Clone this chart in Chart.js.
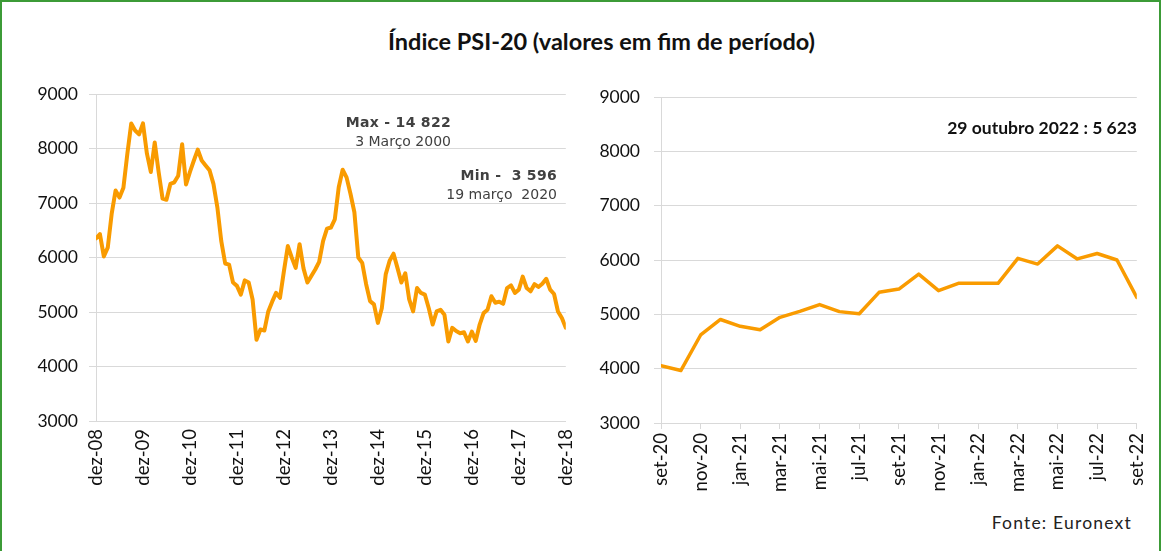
<!DOCTYPE html>
<html lang="pt">
<head>
<meta charset="utf-8">
<script src="https://cdn.jsdelivr.net/npm/chart.js@4.4.0/dist/chart.umd.min.js"></script>
<style>
  html, body { margin: 0; padding: 0; background: #fff; }
  body { width: 1163px; height: 551px; position: relative; overflow: hidden; font-family: Lato, 'Noto Sans', sans-serif; }
  .frame { position: absolute; left: 0; top: 0; width: 1157px; height: 570px; border: 2px solid #3c9b37; }
  .title { position: absolute; left: 20px; width: 1163px; top: 27px; text-align: center; font-weight: bold; font-size: 23.5px; color: #111; }
  .wrap { position: absolute; top: 70px; height: 440px; }
  #leftWrap { left: 0; width: 590px; }
  #rightWrap { left: 590px; width: 573px; }
  .note { position: absolute; font-family: 'DejaVu Sans', Verdana, sans-serif; color: #404040; font-size: 14px; text-align: right; white-space: nowrap; line-height: 19px; }
  .note b { letter-spacing: 0.3px; }
  .stamp { position: absolute; right: 26px; top: 117px; font-weight: bold; font-size: 17.5px; color: #111; white-space: nowrap; }
  .source { position: absolute; right: 31px; top: 512px; font-size: 17.5px; color: #222; letter-spacing: 1.2px; white-space: nowrap; }
</style>
</head>
<body>
<div class="frame"></div>
<div class="title">Índice PSI-20 (valores em fim de período)</div>
<div class="wrap" id="leftWrap"><canvas id="psiLong"></canvas></div>
<div class="wrap" id="rightWrap"><canvas id="psiShort"></canvas></div>
<div class="note" style="right:712px; top:113px;"><b>Max - 14 822</b><br>3 Março 2000</div>
<div class="note" style="right:606px; top:166px;"><b>Min -&nbsp; 3 596</b><br>19 março&nbsp; 2020</div>
<div class="stamp">29 outubro 2022 : 5 623</div>
<div class="source">Fonte: Euronext</div>
<script>
// dez-08 .. dez-18, monthly closes
const longLabels = ['dez-08', 'dez-09', 'dez-10', 'dez-11', 'dez-12', 'dez-13', 'dez-14', 'dez-15', 'dez-16', 'dez-17', 'dez-18'];
const longValues = [
  6350, 6430, 6020, 6180, 6800, 7230, 7100, 7280, 7900, 8460, 8330, 8260,
  8460, 7910, 7570, 8110, 7570, 7080, 7060, 7350, 7380, 7500, 8080, 7340,
  7570, 7780, 7980, 7780, 7690, 7600, 7350, 6920, 6300, 5890, 5870, 5540,
  5480, 5320, 5580, 5540, 5230, 4490, 4680, 4660, 5010, 5190, 5350, 5260,
  5750, 6210, 6000, 5810, 6245, 5800, 5540, 5660, 5780, 5920, 6300, 6530,
  6550, 6700, 7290, 7610, 7470, 7170, 6830, 6000, 5900, 5510, 5200, 5140,
  4800, 5070, 5690, 5940, 6070, 5810, 5540, 5710, 5230, 5010, 5440, 5350,
  5320, 5070, 4770, 5010, 5040, 4950, 4460, 4710, 4650, 4610, 4630, 4460,
  4640, 4470, 4770, 4980, 5040, 5290, 5170, 5190, 5150, 5440, 5490, 5350,
  5410, 5650, 5440, 5380, 5510, 5460, 5520, 5610, 5410, 5330, 5010, 4890,
  4710
];

// set-20 .. set-22, monthly closes
const shortLabels = ['set-20', 'nov-20', 'jan-21', 'mar-21', 'mai-21', 'jul-21', 'set-21', 'nov-21', 'jan-22', 'mar-22', 'mai-22', 'jul-22', 'set-22'];
const shortValues = [
  4055, 3965, 4620, 4905, 4780, 4715, 4945, 5055, 5180, 5050, 5010, 5405,
  5465, 5740, 5435, 5570, 5570, 5570, 6030, 5925, 6260, 6020, 6120, 6000,
  5310
];

const LINE = '#f99b00';
const GRID = '#d9d9d9';
const tickFont = { family: 'Lato', size: 17.5 };

function buildChart(canvasId, values, labels, step, opts) {
  const points = values.map((v, i) => ({ x: i, y: v }));
  return new Chart(document.getElementById(canvasId), {
    type: 'line',
    data: {
      datasets: [{
        data: points,
        borderColor: LINE,
        borderWidth: opts.lineWidth,
        pointRadius: 0,
        tension: 0,
        borderJoinStyle: 'round',
        borderCapStyle: 'round',
      }],
    },
    options: {
      responsive: true,
      maintainAspectRatio: false,
      animation: false,
      layout: { padding: opts.padding },
      plugins: { legend: { display: false }, tooltip: { enabled: false } },
      scales: {
        x: {
          type: 'linear',
          min: 0,
          max: values.length - 1,
          afterFit: (scale) => { scale.height = opts.xHeight; },
          afterBuildTicks: (scale) => {
            scale.ticks = labels.map((_, i) => ({ value: i * step }));
          },
          ticks: {
            autoSkip: false,
            minRotation: 90,
            maxRotation: 90,
            padding: opts.xPad,
            color: '#111',
            font: { family: 'Lato', size: 18.5 },
            callback: (v) => labels[Math.round(v / step)],
          },
          grid: {
            display: opts.xTicks,
            drawOnChartArea: false,
            tickLength: 6,
            color: GRID,
          },
          border: { display: true, color: GRID },
        },
        y: {
          min: 3000,
          max: 9000,
          afterFit: (scale) => { scale.width = opts.yWidth; },
          ticks: {
            stepSize: 1000,
            padding: opts.yPad,
            color: '#111',
            font: tickFont,
            callback: (v) => String(v),
          },
          grid: { color: GRID, tickLength: 7 },
          border: { display: true, color: GRID },
        },
      },
    },
  });
}

buildChart('psiLong', longValues, longLabels, 12, {
  lineWidth: 4,
  padding: { top: 24, right: 23, left: 0, bottom: 0 },
  xHeight: 89,
  yWidth: 96,
  xPad: 2,
  yPad: 11,
  xTicks: false,
});

buildChart('psiShort', shortValues, shortLabels, 2, {
  lineWidth: 3.5,
  padding: { top: 27, right: 20, left: 0, bottom: 0 },
  xHeight: 87,
  yWidth: 71,
  xPad: 4,
  yPad: 14,
  xTicks: true,
});
</script>
</body>
</html>
